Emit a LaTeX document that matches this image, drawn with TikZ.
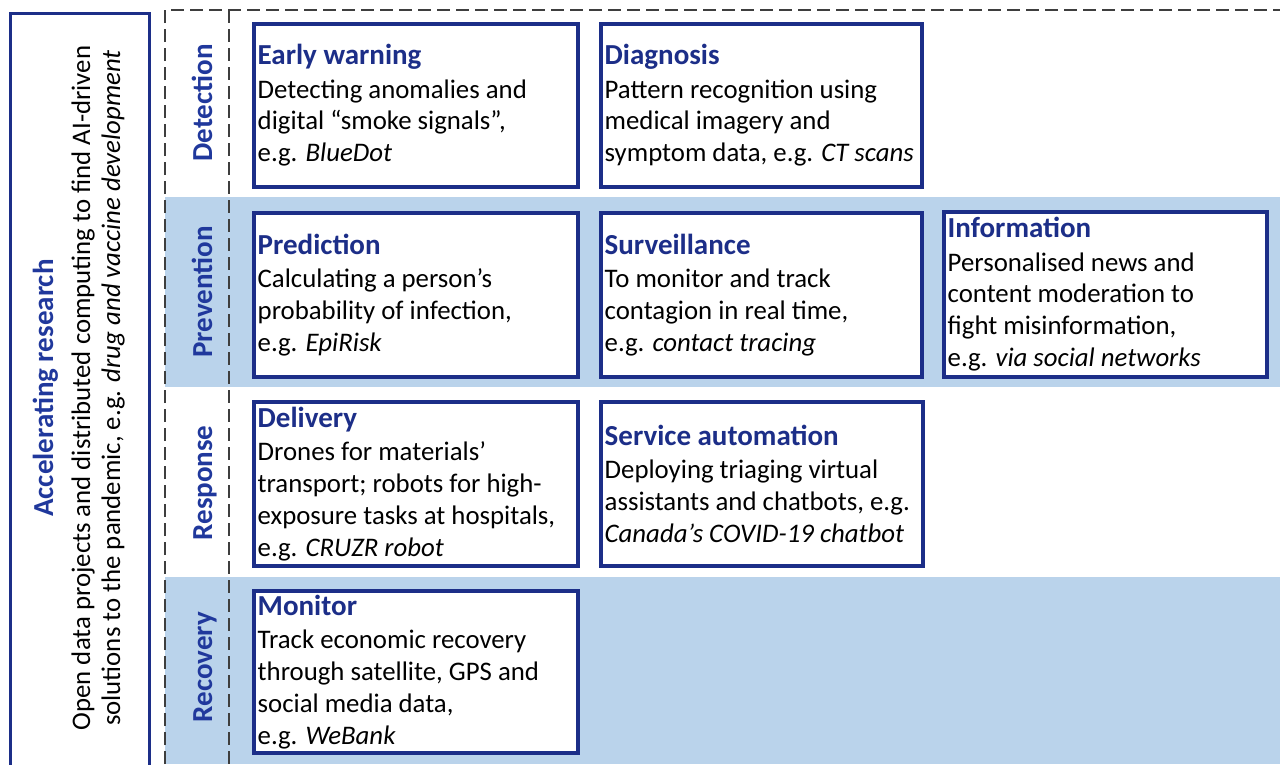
\documentclass[tikz,border=0pt]{standalone}
\usepackage{fontspec}
\setmainfont{Carlito}
\definecolor{navy}{RGB}{28,46,136}
\definecolor{labelblue}{RGB}{32,56,156}
\definecolor{band}{RGB}{186,211,235}
\definecolor{dashgray}{RGB}{62,62,62}
\newcommand\bodyfont{\fontsize{26.8}{31.8}\selectfont}
\newcommand\headfont{\fontsize{29}{33}\selectfont\bfseries}
\newcommand\ttl[1]{{\headfont\color{navy}#1}\\[1.5pt]}
\tikzset{
  card/.style={draw=navy, line width=3.6pt, fill=white, anchor=north west, inner sep=0pt},
  cardtext/.style={anchor=west, inner sep=0pt, align=left, font=\bodyfont},
  rowlabel/.style={rotate=90, anchor=base, inner sep=0pt, font=\headfont, text=labelblue},
  divider/.style={draw=dashgray, line width=2.2pt, dash pattern=on 13pt off 6pt},
  sidetext/.style={rotate=90, anchor=base, inner sep=0pt, font=\bodyfont},
}
\newcommand\card[6]{%
  \node[card, minimum width=#4pt, minimum height=#5pt] (#1) at (#2,#3) {};
  \node[cardtext] (#1t) at ([xshift=5.5pt]#1.west) {#6};
}
\begin{document}
\begin{tikzpicture}[x=1pt,y=-1pt]
\useasboundingbox (0,0) rectangle (1280,764);
% bands
\fill[band] (165,197) rectangle (1280,387);
\fill[band] (165,577) rectangle (1280,764);
% dashed frame
\coordinate (tl) at (165,10);
\coordinate (tr) at (1280,10);
\coordinate (bl) at (165,764);
\coordinate (ml) at (229,10);
\coordinate (mb) at (229,764);
\draw[divider] (bl) -- (tl) -- (tr);
\draw[divider] (ml) -- (mb);
% left box
\node[draw=navy, line width=3pt, anchor=north west, inner sep=0pt,
      minimum width=139pt, minimum height=770pt] (side) at (8.5,11.5) {};
\node[sidetext, font=\headfont, text=labelblue] (sidetitle) at (53,388) {Accelerating research};
\node[sidetext] (sideA) at (90,388) {Open data projects and distributed computing to find AI-driven};
\node[sidetext] (sideB) at (120,388) {solutions to the pandemic, e.g. \textit{drug and vaccine development}};
% row labels
\node[rowlabel] (rdet) at (212,103) {Detection};
\node[rowlabel] (rpre) at (212,292) {Prevention};
\node[rowlabel] (rres) at (212,483) {Response};
\node[rowlabel] (rrec) at (212,667) {Recovery};
% cards
\card{ew}{252}{22}{324}{163}{\ttl{Early warning}Detecting anomalies and\\digital “smoke signals”,\\e.g. \textit{BlueDot}}
\card{dg}{599}{22}{321}{163}{\ttl{Diagnosis}Pattern recognition using\\medical imagery and\\symptom data, e.g. \textit{CT scans}}
\card{pr}{252}{211}{324}{164}{\ttl{Prediction}Calculating a person’s\\probability of infection,\\e.g. \textit{EpiRisk}}
\card{sv}{599}{211}{321}{164}{\ttl{Surveillance}To monitor and track\\contagion in real time,\\e.g. \textit{contact tracing}}
\card{inf}{942}{210}{323}{165}{\ttl{Information}Personalised news and\\content moderation to\\fight misinformation,\\e.g. \textit{via social networks}}
\card{dl}{252}{400}{324}{164}{\ttl{Delivery}Drones for materials’\\transport; robots for high-\\exposure tasks at hospitals,\\e.g. \textit{CRUZR robot}}
\card{sa}{599}{400}{322}{164}{\ttl{Service automation}Deploying triaging virtual\\assistants and chatbots, e.g.\\\textit{Canada’s COVID-19 chatbot}}
\card{mo}{252}{589}{324}{162}{\ttl{Monitor}Track economic recovery\\through satellite, GPS and\\social media data,\\e.g. \textit{WeBank}}
\end{tikzpicture}
\end{document}
